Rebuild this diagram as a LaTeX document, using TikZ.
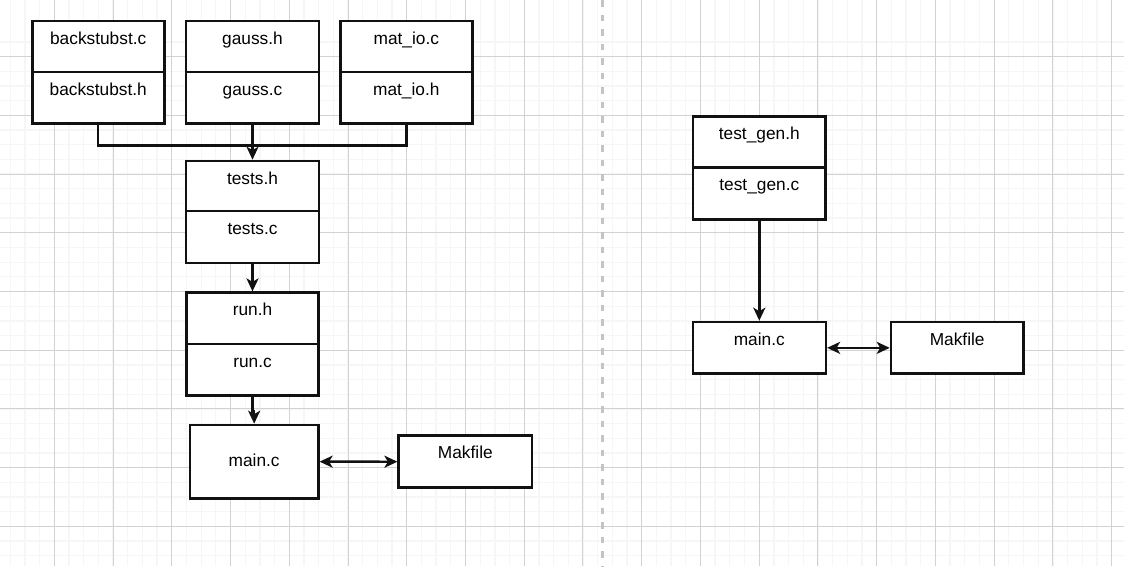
\documentclass[tikz,border=0pt]{standalone}
\usepackage{fontspec}
\setmainfont{Liberation Sans}
\usetikzlibrary{arrows.meta}
\definecolor{gridmajor}{HTML}{D2D2D2}
\definecolor{gridminor}{HTML}{F6F6F6}
\definecolor{dashgray}{HTML}{C4C4C4}
\definecolor{boxline}{HTML}{111111}
\tikzset{
  sect/.style={draw=boxline, line width=2.6pt, fill=white, inner xsep=0pt, inner ysep=0pt,
    minimum width=#1, text height=23pt, font=\fontsize{17.3pt}{20pt}\selectfont},
  sect/.default=132pt,
  conn/.style={draw=boxline, line width=2.4pt},
  tip/.style={-{Stealth[length=13pt,width=12pt,inset=3.5pt]}},
  tips/.style={{Stealth[length=13pt,width=12pt,inset=3.5pt]}-{Stealth[length=13pt,width=12pt,inset=3.5pt]}},
}
\begin{document}
\begin{tikzpicture}[x=1pt,y=-1pt]
\useasboundingbox (0,0) rectangle (1124,566);
\fill[white] (0,0) rectangle (1124,566);
% grid
\begin{scope}
\clip (0,0) rectangle (1124,566);
\foreach \i in {-4,...,80} {
  \draw[gridminor, line width=1.3pt] ({54.3+14.685*\i},0) -- ++(0,566);
}
\foreach \i in {-1,...,40} {
  \draw[gridminor, line width=1.3pt] (0,{56.7+14.675*\i}) -- ++(1124,0);
}
\foreach \i in {-1,...,18} {
  \draw[gridmajor, line width=1pt] ({54.3+58.74*\i},0) -- ++(0,566);
}
\foreach \i in {-1,...,9} {
  \draw[gridmajor, line width=1pt] (0,{56.7+58.7*\i}) -- ++(1124,0);
}
\end{scope}
% separator
\draw[dashgray, line width=2.4pt, dash pattern=on 6.5pt off 8pt] (602.3,0) -- (602.3,566);

% left column: top row
\node[sect, text depth=28pt] (bst) at (98.2,46.5) {backstubst.c};
\node[sect, text depth=28.7pt] (bsb) at (98.2,97.85) {backstubst.h};
\node[sect, minimum width=133pt, text depth=28pt] (gt) at (252.5,46.5) {gauss.h};
\node[sect, minimum width=133pt, text depth=28.7pt] (gb) at (252.5,97.85) {gauss.c};
\node[sect, text depth=28pt] (mt) at (406.3,46.5) {mat\_io.c};
\node[sect, text depth=28.7pt] (mb) at (406.3,97.85) {mat\_io.h};

% tests
\node[sect, minimum width=133pt, text depth=27pt] (tt) at (252.5,186) {tests.h};
\node[sect, minimum width=133pt, text depth=29pt] (tb) at (252.5,237) {tests.c};

% run
\node[sect, text depth=28.3pt] (rt) at (252.5,318.35) {run.h};
\node[sect, text depth=28.3pt] (rb) at (252.5,369.65) {run.c};

% main.c and Makfile (left)
\node[sect, minimum width=128.3pt, text height=41.5pt, text depth=31.8pt] (mainL) at (254.15,461.65) {main.c};
\node[sect, minimum width=133.3pt, text depth=29pt] (makL) at (465.35,461.7) {Makfile};

% right side
\node[sect, minimum width=132.7pt, text depth=28.4pt] (tgt) at (759.3,142) {test\_gen.h};
\node[sect, minimum width=132.7pt, text depth=28.6pt] (tgb) at (759.3,193.5) {test\_gen.c};
\node[sect, minimum width=133pt, text depth=28.7pt] (mainR) at (759.3,347.85) {main.c};
\node[sect, minimum width=132.3pt, text depth=28.7pt] (makR) at (957.15,347.85) {Makfile};

% connectors
\coordinate (join) at (252.5,145.3);
\draw[conn] (bsb.south) |- (join) -| (mb.south);
\draw[conn, tip] (gb.south) -- (tt.north);
\draw[conn, tip] (tb.south) -- (rt.north);
\draw[conn, tip] (rb.south) -- ++(0,14.7) -| (mainL.north);
\draw[conn, tips] (mainL.east) -- (makL.west);
\draw[conn, tip] (tgb.south) -- (mainR.north);
\draw[conn, tips] (mainR.east) -- (makR.west);
\end{tikzpicture}
\end{document}
